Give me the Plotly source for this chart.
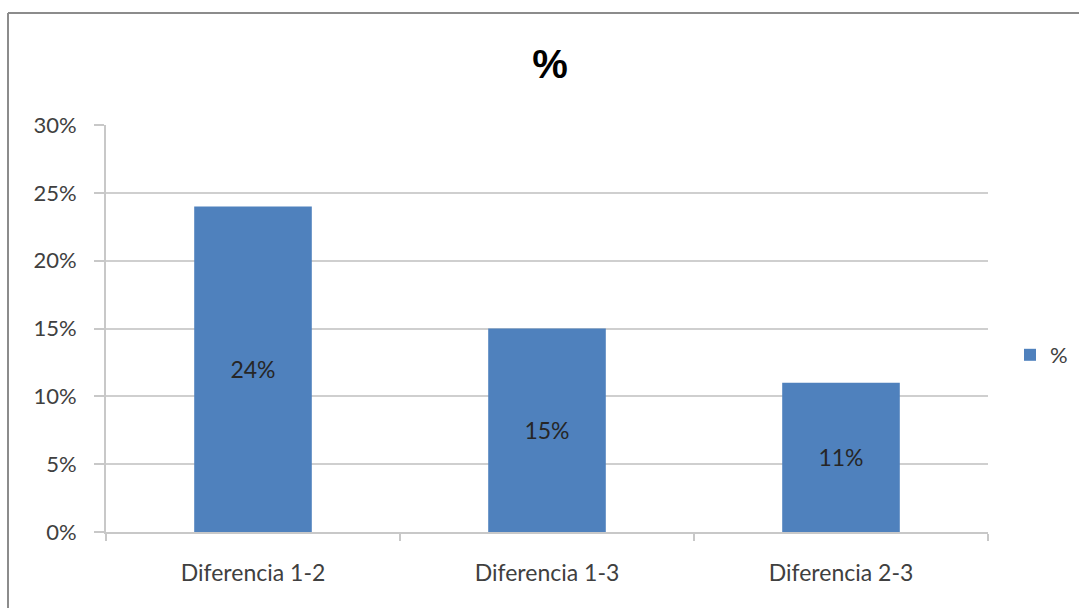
import plotly.graph_objects as go

categories = ["Diferencia 1-2", "Diferencia 1-3", "Diferencia 2-3"]
values = [0.24, 0.15, 0.11]
labels = ["24%", "15%", "11%"]
series_name = "%"
tick_vals = [0, 0.05, 0.10, 0.15, 0.20, 0.25, 0.30]
tick_text = ["0%", "5%", "10%", "15%", "20%", "25%", "30%"]

W, H = 1079, 608
L, R, T, B = 106, 91, 125, 76
pw, ph = W - L - R, H - T - B
FONT = "Lato, Liberation Sans, sans-serif"

fig = go.Figure()
fig.add_trace(go.Bar(
    x=categories, y=values, name=series_name,
    marker=dict(color="#4F81BD", line=dict(width=0)),
    width=0.4,
    text=labels, textposition="inside", insidetextanchor="middle",
    textfont=dict(family=FONT, size=23, color="#262626"),
    showlegend=True,
))

def px2paperx(px):
    return (px - L) / pw

def py2papery(py):
    return (H - B - py) / ph

fig.update_layout(
    width=W, height=H,
    margin=dict(l=L, r=R, t=T, b=B, autoexpand=False),
    paper_bgcolor="white", plot_bgcolor="white",
    font=dict(family=FONT, color="#404040"),
    title=dict(text="<b>%</b>", x=(550 / W), xanchor="center", y=1 - 64 / H, yanchor="middle",
               font=dict(size=40, color="#000000", family="Liberation Sans, Arial, sans-serif")),
    showlegend=True,
    legend=dict(x=px2paperx(1010), y=py2papery(355), xanchor="left", yanchor="middle",
                font=dict(size=22, color="#404040"), bgcolor="rgba(0,0,0,0)"),
    shapes=[
        dict(type="line", xref="paper", yref="paper", x0=px2paperx(8), x1=px2paperx(1090),
             y0=py2papery(13), y1=py2papery(13), line=dict(color="#8c8c8c", width=2)),
        dict(type="line", xref="paper", yref="paper", x0=px2paperx(8), x1=px2paperx(8),
             y0=py2papery(13), y1=py2papery(620), line=dict(color="#8c8c8c", width=2)),
    ],
)
fig.update_xaxes(
    type="category", range=[-0.5, 2.5],
    showline=True, linecolor="#c8c8c8", linewidth=2,
    ticks="outside", ticklen=7, tickcolor="#c8c8c8", tickwidth=2,
    tickson="boundaries", showgrid=False,
    tickfont=dict(size=23, color="#404040"),
    ticklabelstandoff=19,
)
fig.update_yaxes(
    range=[0, 0.30], tickvals=tick_vals, ticktext=tick_text,
    showline=True, linecolor="#c8c8c8", linewidth=2,
    ticks="outside", ticklen=10, tickcolor="#c8c8c8", tickwidth=2,
    showgrid=True, gridcolor="#cfcfcf", gridwidth=2,
    zeroline=False,
    tickfont=dict(size=22, color="#404040"),
    ticklabelstandoff=13,
)

fig.write_html("out.html")
